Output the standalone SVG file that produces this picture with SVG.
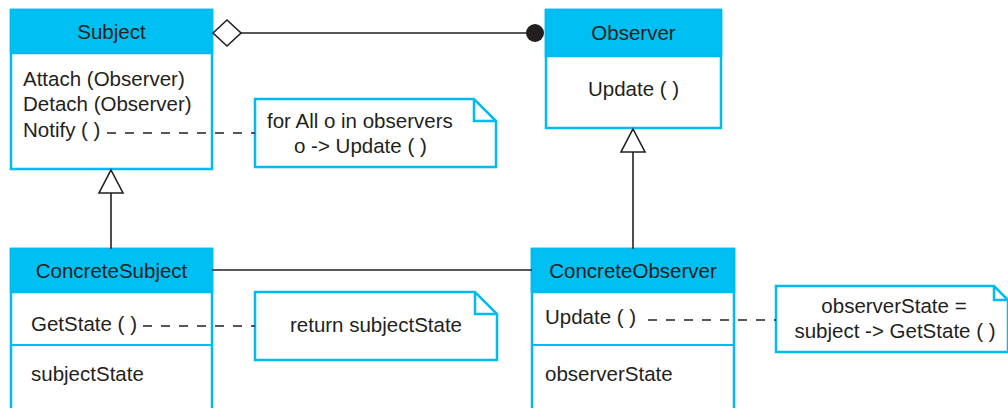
<svg xmlns="http://www.w3.org/2000/svg" width="1008" height="408" viewBox="0 0 1008 408">
<style>
.box{fill:#fff;stroke:#00BBEF;stroke-width:2.5}
.hdr{fill:#00BFF3;stroke:#00BBEF;stroke-width:2.5}
.div{stroke:#00BBEF;stroke-width:2}
.note{fill:#fff;stroke:#00BBEF;stroke-width:2.5;stroke-linejoin:miter}
text{font-family:"Liberation Sans",Arial,sans-serif;font-size:20.5px;fill:#231F20}
.c{text-anchor:middle}
.ln{stroke:#231F20;stroke-width:1.6;fill:none}
.dash{stroke:#231F20;stroke-width:1.4;fill:none;stroke-dasharray:9 9}
</style>
<rect width="1008" height="408" fill="#fff"/>
<g id="subject">
<rect class="box" x="11" y="10" width="201" height="159"/>
<rect class="hdr" x="11" y="10" width="201" height="43"/>
<text class="c" x="111.5" y="39">Subject</text>
<text x="23" y="86">Attach (Observer)</text>
<text x="23" y="111">Detach (Observer)</text>
<text x="23" y="137">Notify ( )</text>
</g>
<g id="observer">
<rect class="box" x="546" y="10" width="175" height="118"/>
<rect class="hdr" x="546" y="10" width="175" height="46"/>
<text class="c" x="633.5" y="40">Observer</text>
<text class="c" x="633.5" y="96">Update ( )</text>
</g>
<g id="concreteSubject">
<rect class="box" x="11" y="249" width="201" height="170"/>
<rect class="hdr" x="11" y="249" width="201" height="43"/>
<line class="div" x1="11" y1="345" x2="212" y2="345"/>
<text class="c" x="111.5" y="278">ConcreteSubject</text>
<text x="31" y="331">GetState ( )</text>
<text x="31" y="381">subjectState</text>
</g>
<g id="concreteObserver">
<rect class="box" x="532" y="249" width="202" height="170"/>
<rect class="hdr" x="532" y="249" width="202" height="43"/>
<line class="div" x1="532" y1="345" x2="734" y2="345"/>
<text class="c" x="633" y="278">ConcreteObserver</text>
<text x="545" y="324">Update ( )</text>
<text x="545" y="381">observerState</text>
</g>
<g id="note1">
<path class="note" d="M255,99 H474 L496,121 V167 H255 Z M474,99 V121 H496"/>
<text x="267" y="128">for All o in observers</text>
<text x="294" y="153">o -&gt; Update ( )</text>
</g>
<g id="note2">
<path class="note" d="M255,292 H475 L497,314 V360 H255 Z M475,292 V314 H497"/>
<text class="c" x="376" y="332">return subjectState</text>
</g>
<g id="note3">
<path class="note" d="M776,286 H994 L1008,300 V352 H776 Z M994,286 V300 H1008"/>
<text class="c" x="894" y="313">observerState =</text>
<text class="c" x="895" y="338">subject -&gt; GetState ( )</text>
</g>
<g id="connectors">
<line class="ln" x1="241" y1="33" x2="530" y2="33"/>
<polygon points="213,33 227,20 241,33 227,46" fill="#fff" stroke="#231F20" stroke-width="1.6"/>
<circle cx="535" cy="33" r="9" fill="#231F20"/>
<line class="ln" x1="111" y1="193" x2="111" y2="249"/>
<polygon points="111,170 123,193 99,193" fill="#fff" stroke="#231F20" stroke-width="1.6"/>
<line class="ln" x1="633" y1="152" x2="633" y2="249"/>
<polygon points="633,129 645,152 621,152" fill="#fff" stroke="#231F20" stroke-width="1.6"/>
<line class="ln" x1="212" y1="270" x2="532" y2="270"/>
<line class="dash" x1="107" y1="133" x2="255" y2="133"/>
<line class="dash" x1="143" y1="326" x2="255" y2="326"/>
<line class="dash" x1="648" y1="320" x2="776" y2="320"/>
</g>
</svg>
